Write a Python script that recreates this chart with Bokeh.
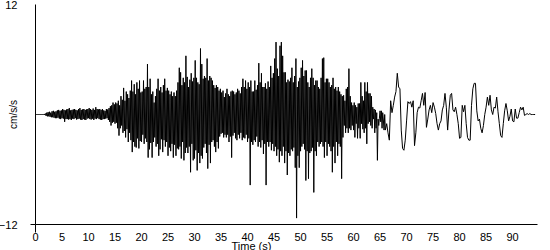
from bokeh.plotting import figure
from bokeh.models import FixedTicker, ColumnDataSource, Range1d, Title
from bokeh.embed import file_html
from bokeh.resources import INLINE

# acceleration (cm/s/s)
# 0 - 66 s, one sample every 0.125 s
accel_fast = [
    0, 0, 0, 0, 0, 0, 0, 0,
    0, 0, 0, 0, 0, 0.05, -0.05, 0.1,
    -0.15, 0.2, -0.2, 0.25, -0.2, 0.3, -0.25, 0.2,
    -0.3, 0.35, -0.3, 0.4, -0.35, 0.3, -0.4, 0.35,
    -0.4, 0.45, -0.35, 0.5, -0.45, 0.4, -0.5, 0.45,
    -0.4, 0.6, -0.45, 0.5, -0.8, 0.45, -0.5, 0.55,
    -0.5, 0.6, -0.55, 0.7, -0.5, 0.45, -0.6, 0.5,
    -0.45, 0.55, -0.5, 0.6, -0.4, 0.5, -0.55, 0.45,
    -0.5, 0.6, -0.45, 0.7, -0.55, 0.5, -0.6, 0.55,
    -0.5, 0.6, -0.55, 0.5, -0.6, 0.55, -0.45, 0.6,
    -0.4, 0.7, -0.5, 0.6, -0.55, 0.5, -0.45, 0.65,
    -0.6, 0.5, -0.45, 0.8, -0.5, 0.6, -0.4, 0.55,
    -0.5, 0.6, -0.55, 0.5, -0.6, 0.6, -0.5, 0.45,
    -0.5, 0.4, -0.45, 0.6, -0.4, 0.55, -0.6, 0.7,
    -0.8, 0.9, -1.2, 1.0, -0.9, 1.3, -0.8, 1.1,
    -1.0, 1.3, -0.9, 1.2, -1.5, 1.5, -2.3, 1.0,
    -1.5, 2.0, -1.2, 1.6, -2.0, 2.9, -1.8, 1.5,
    -2.5, 2.5, -1.6, 2.2, -3.0, 1.8, -2.0, 2.6,
    -2.8, 3.7, -4.1, 2.5, -3.0, 3.3, -3.5, 2.2,
    -3.6, 3.5, -2.6, 2.8, -3.7, 3.7, -2.9, 2.4,
    -3.0, 2.5, -2.2, 3.7, -3.2, 2.8, -2.6, 3.0,
    -3.0, 5.5, -4.7, 3.0, -3.8, 3.9, -3.1, 2.2,
    -4.7, 2.5, -3.0, 1.3, -2.5, 2.0, -3.5, 2.8,
    -3.2, 3.9, -4.5, 2.6, -3.8, 3.0, -2.7, 2.4,
    -4.1, 3.2, -2.8, 3.9, -3.5, 2.6, -3.0, 2.9,
    -4.5, 2.6, -3.6, 2.2, -4.0, 2.5, -3.2, 2.0,
    -4.7, 2.4, -3.3, 2.0, -4.5, 2.6, -3.7, 3.5,
    -3.8, 5.1, -3.5, 4.6, -4.8, 3.2, -3.0, 4.0,
    -5.0, 3.5, -4.2, 6.4, -3.6, 4.1, -4.2, 3.0,
    -3.5, 3.8, -6.3, 4.5, -3.2, 3.6, -5.0, 4.0,
    -4.8, 5.9, -3.9, 4.0, -6.1, 3.5, -4.2, 3.3,
    -5.3, 7.2, -4.5, 5.5, -4.8, 3.9, -3.6, 4.2,
    -3.2, 4.0, -4.2, 6.1, -5.9, 3.7, -3.3, 4.2,
    -5.3, 4.0, -3.0, 3.7, -2.8, 3.2, -3.5, 2.9,
    -4.1, 3.2, -3.0, 3.0, -3.7, 2.6, -2.4, 2.8,
    -2.1, 2.4, -2.0, 2.6, -2.5, 1.9, -2.2, 2.3,
    -2.5, 2.8, -2.2, 2.2, -3.0, 2.0, -2.4, 2.5,
    -4.7, 2.6, -2.3, 2.5, -2.0, 2.2, -2.6, 2.4,
    -2.8, 2.8, -2.2, 2.6, -2.6, 2.3, -2.0, 3.0,
    -2.8, 3.9, -2.5, 3.0, -2.6, 3.7, -2.2, 2.8,
    -3.0, 3.5, -2.6, 3.0, -7.7, 3.7, -3.0, 2.5,
    -3.3, 2.5, -2.8, 3.7, -3.0, 2.7, -2.4, 3.2,
    -3.5, 5.6, -3.0, 3.5, -3.6, 4.5, -2.8, 3.0,
    -4.3, 3.0, -3.2, 3.4, -7.7, 2.8, -3.0, 3.6,
    -3.5, 3.0, -3.0, 5.3, -3.9, 4.0, -3.2, 4.5,
    -4.0, 6.1, -3.5, 7.9, -4.5, 5.0, -3.8, 4.2,
    -5.2, 7.5, -4.0, 7.9, -4.5, 6.4, -3.5, 4.6,
    -5.3, 4.6, -4.0, 3.5, -6.6, 3.8, -4.2, 3.6,
    -4.5, 4.0, -3.8, 5.1, -4.0, 3.5, -3.6, 4.2,
    -5.8, 6.1, -11.3, 3.0, -4.5, 3.6, -5.8, 4.0,
    -4.0, 5.1, -3.5, 5.9, -3.2, 4.2, -3.8, 4.8,
    -7.2, 4.8, -4.0, 3.5, -7.0, 3.0, -4.2, 4.0,
    -4.0, 5.0, -3.6, 4.0, -8.5, 3.2, -4.0, 3.7,
    -4.5, 3.7, -3.0, 3.0, -3.5, 2.8, -3.2, 4.0,
    -3.0, 6.1, -3.5, 6.2, -4.7, 3.5, -3.0, 3.9,
    -4.5, 3.9, -3.2, 3.5, -3.5, 3.0, -4.0, 3.2,
    -6.3, 4.0, -3.5, 2.8, -5.3, 3.0, -3.0, 2.6,
    -4.5, 3.0, -3.2, 2.5, -3.5, 2.2, -7.0, 2.0,
    -2.5, 2.1, -1.2, 1.5, -2.0, 2.8, -1.5, 3.0,
    -2.0, 5.0, -1.5, 2.0, -1.7, 1.3, -1.2, 1.0,
    -1.7, 1.3, -2.5, 1.0, -1.0, 0.8, -2.6, 1.2,
    -1.5, 1.2, -2.6, 3.5, -1.0, 2.0, -1.6, 1.5,
    -2.0, 3.5, -1.5, 2.5, -3.2, 3.5, -1.0, 2.3,
    -0.8, 2.3, -1.2, 2.0, -1.5, 0.8, -0.5, 0.6,
    -2.0, 0.5, -1.5, 0.2, -5.0, -0.5, -1.2, -0.4,
    0.4, -0.8, 0.4, -1.5, 0.2, -0.6, -1.7, 0.0,
]
# 66 s onwards, one sample every 0.25 s
accel_slow = [
    -1.7, -1.0, -2.0, -2.8,
    1.5, 0.2, 1.0, 1.9,
    2.5, 4.5, 3.0, 2.8,
    -1.7, -3.7, -3.9, -2.8,
    -0.7, 1.4, 1.2, 1.4,
    0.8, 1.5, -3.4, -2.0,
    0.2, 0.8, 0.7, 1.5,
    2.3, 1.0, 2.4, -1.4,
    -0.5, 0.5, 1.0, 0.2,
    1.3, 0.8, 0.1, -1.0,
    -1.7, -1.0, -0.7, 0.5,
    1.0, 2.3, 0.8, -1.7,
    0.5, 2.1, 2.3, 0.5,
    0.3, 0.8, 0.0, -1.0,
    -2.6, -2.5, 1.0, 0.3,
    1.0, -1.0, -2.5, -2.8,
    -2.8, 1.0, 2.8, 3.4,
    3.4, 0.4, -0.7, -0.5,
    -1.5, -2.0, -1.2, 0.0,
    0.8, 1.9, 1.0, 2.1,
    0.5, 0.0, 0.8, 0.7,
    1.9, 0.3, -1.0, -2.3,
    -2.5, -1.0, 0.4, 1.2,
    0.4, -0.7, -0.2, 0.6,
    -0.7, -0.8, 0.6, -0.4,
    -0.4, 0.2, 0.8, 0.5,
    0.8, -0.1, 0.0, 0.1,
    0.0, 0.1, 0.0, 0.0,
    0.0, 0.0,
]
fast_step = 0.125
slow_step = 0.25
slow_start = 66.0

time_s = [i * fast_step for i in range(len(accel_fast))] + \
         [slow_start + i * slow_step for i in range(len(accel_slow))]
accel = accel_fast + accel_slow

x_ticks = [0, 5, 10, 15, 20, 25, 30, 35, 40, 45, 50, 55, 60, 65, 70, 75, 80, 85, 90]
y_ticks = [-12, 12]
x_title = "Time (s)"
y_title = "cm/s/s"

src = ColumnDataSource(dict(t=time_s, a=accel))

p = figure(width=550, height=250, output_backend="svg", toolbar_location=None,
           x_range=Range1d(0, 94.7), y_range=Range1d(-12, 12),
           min_border_left=35, min_border_right=13, min_border_top=4, min_border_bottom=26)
p.outline_line_color = None
p.xgrid.visible = False
p.ygrid.visible = False
p.background_fill_color = "white"
p.border_fill_color = "white"

p.line("t", "a", source=src, line_color="black", line_width=1)

font = "Liberation Sans"
xa = p.xaxis[0]
xa.ticker = FixedTicker(ticks=x_ticks, minor_ticks=[0])
xa.major_tick_out = 0
xa.major_tick_in = 0
xa.minor_tick_out = 8
xa.minor_tick_in = 0
xa.major_label_standoff = 0
xa.major_label_text_font = font
xa.major_label_text_font_size = "11px"
xa.major_label_text_color = "black"
xa.axis_line_color = "black"
xa.minor_tick_line_color = "black"

ya = p.yaxis[0]
ya.ticker = FixedTicker(ticks=y_ticks, minor_ticks=[-12])
ya.major_tick_out = 0
ya.major_tick_in = 0
ya.minor_tick_out = 5
ya.minor_tick_in = 0
ya.major_label_standoff = 13
ya.major_label_text_font = font
ya.major_label_text_font_size = "11px"
ya.major_label_text_color = "black"
ya.axis_label = y_title
ya.axis_label_text_font = font
ya.axis_label_text_font_size = "10px"
ya.axis_label_text_font_style = "normal"
ya.axis_label_text_color = "black"
ya.axis_label_standoff = -23
ya.axis_line_color = "black"
ya.minor_tick_line_color = "black"

# x-axis title: left of centre, just under the tick labels
p.add_layout(Title(text=x_title, align="left", offset=196, standoff=-12,
                   text_font=font, text_font_size="11px", text_font_style="normal",
                   text_color="black"), "below")

open("out.html", "w").write(file_html(p, INLINE))
